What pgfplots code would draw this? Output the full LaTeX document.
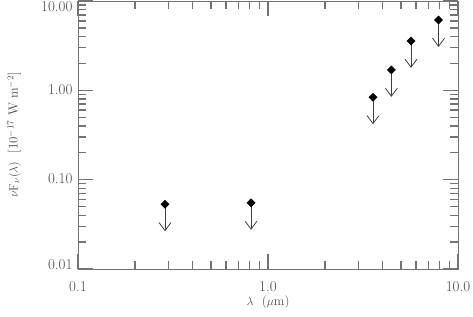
\documentclass[border=0pt]{standalone}
\usepackage{pgfplots}
\usepackage{pgfplotstable}
\pgfplotsset{compat=1.18}
\usetikzlibrary{arrows.meta}
\definecolor{axgray}{gray}{0.45}
\definecolor{txtgray}{gray}{0.3}
\pgfplotstableread{
x y em
0.287 0.053 0.0265
0.814 0.055 0.0275
3.57 0.836 0.418
4.46 1.69 0.845
5.66 3.57 1.785
7.9 6.12 3.06
}\sed
\newcommand{\tl}[2]{\raisebox{#1}[0pt][0pt]{#2}}
\begin{document}
\begin{tikzpicture}
\begin{axis}[name=ax, scale only axis, width=380pt, height=268pt,
  xmode=log, ymode=log, xmin=0.1, xmax=10, ymin=0.01, ymax=10,
  xtick={0.1,1,10}, xticklabels={0.1,1.0,10.0},
  ytick={0.01,0.1,1,10},
  yticklabels={\tl{0pt}{0.01},\tl{-4pt}{0.10},\tl{-4pt}{1.00},\tl{-10pt}{10.00}},
  minor xtick={0.2,0.3,0.4,0.5,0.6,0.7,0.8,0.9,2,3,4,5,6,7,8,9},
  minor ytick={0.02,0.03,0.04,0.05,0.06,0.07,0.08,0.09,0.2,0.3,0.4,0.5,0.6,0.7,0.8,0.9,2,3,4,5,6,7,8,9},
  axis line style={axgray, line width=0.8pt},
  tick style={black!55, line width=1.4pt},
  major tick length=15pt, minor tick length=8pt,
  ticklabel style={font=\fontsize{15}{18}\selectfont, text=txtgray},
  xticklabel style={yshift=-9pt},
  yticklabel style={xshift=-2pt},
  every axis x label/.style={at={(axis description cs:0.5,-0.123)}, anchor=center},
  every axis y label/.style={at={(axis description cs:-0.168,0.5)}, rotate=90, anchor=center},
  label style={font=\fontsize{13}{16}\selectfont, text=txtgray},
  xlabel={$\lambda$\ \ ($\mu$m)},
  ylabel={$\nu\mathrm{F}_\nu(\lambda)$\ \ [10$^{-17}$ W m$^{-2}$]},
]
\addplot[draw=none, mark=none,
  error bars/.cd, y dir=minus, y explicit, error mark=none,
  error bar style={black!75, line width=0.8pt, -{Straight Barb[length=8pt,width=12pt]}}]
  table[x=x, y=y, y error minus=em] {\sed};
\addplot[only marks, mark=square*, mark size=2.9pt, mark options={rotate=45, fill=black, draw=black}]
  table[x=x, y=y] {\sed};
\end{axis}
\pgfresetboundingbox
\path[use as bounding box] ([xshift=-78pt,yshift=-47pt]ax.south west) rectangle ([xshift=15pt,yshift=1pt]ax.north east);
\end{tikzpicture}
\end{document}
